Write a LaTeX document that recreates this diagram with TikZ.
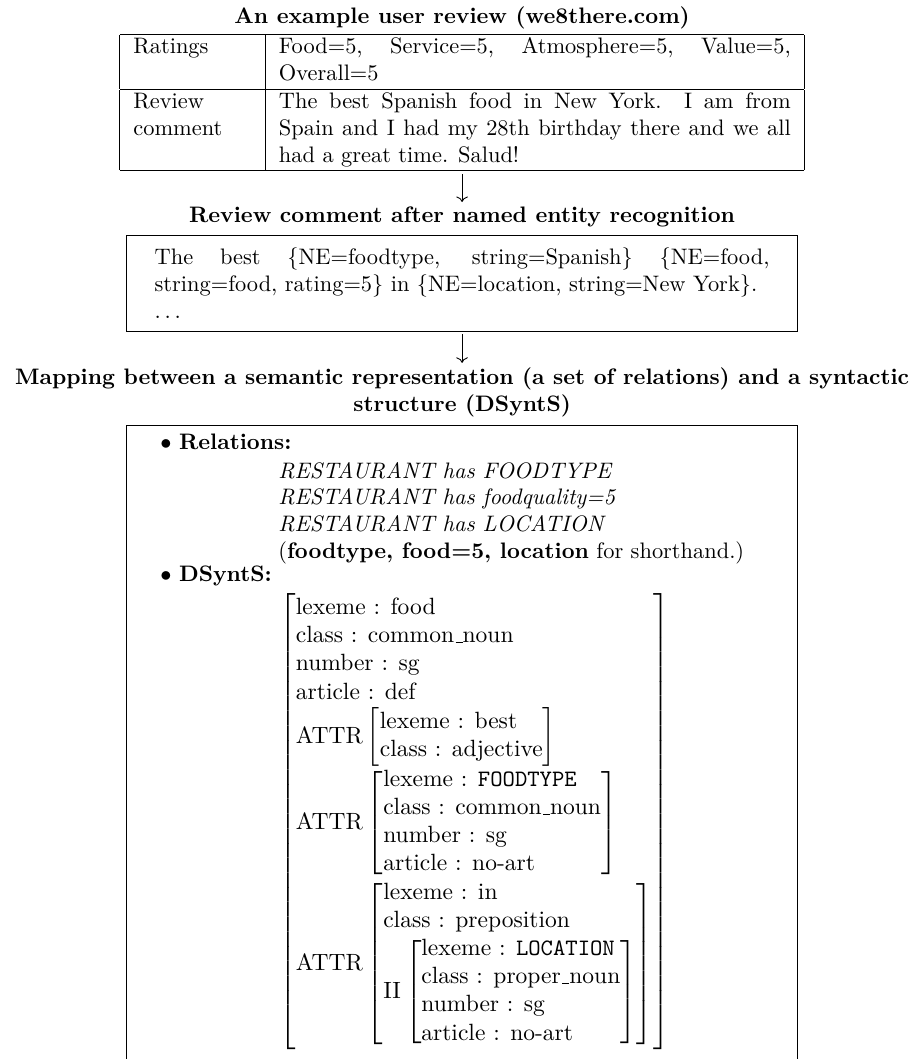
\documentclass[tikz,border=0pt]{standalone}
\usepackage{amsmath}
\usetikzlibrary{arrows.meta, positioning}

% underscore drawn on the baseline
\newcommand{\usc}{\leavevmode\kern.06em\vbox{\hrule width.3em}}
% feature structure in square brackets
\newcommand{\fstruct}[1]{\left[\begin{array}{@{}l@{}}#1\end{array}\right]}

\begin{document}
\begin{tikzpicture}[
    x=1pt, y=1pt,
    node distance=2pt,
    heading/.style={font=\bfseries, inner sep=0pt, align=center},
    block/.style={rectangle, draw, line width=0.5pt, inner xsep=12.5pt, inner ysep=5.6pt},
    arrow/.style={-To, thin, shorten <=1.2pt, shorten >=1.8pt}
]
    \useasboundingbox (0,0) rectangle (410.3,-472.8);

    \node[heading, anchor=base] (title1) at (206.3,-10.3) {An example user review (we8there.com)};
    \node[inner sep=0pt, below=2pt of title1] (review) {%
        \begin{tabular}{|p{53pt}|p{228.5pt}|}
        \hline
        Ratings & Food=5, Service=5, Atmosphere=5, Value=5,\linebreak Overall=5\\
        \hline
        Review comment & The best Spanish food in New York. I am from\linebreak Spain and I had my 28th birthday there and we all\linebreak had a great time. Salud!\\
        \hline
        \end{tabular}};

    \node[heading, below=15.4pt of review] (title2) {Review comment after named entity recognition};
    \node[block, text width=274.5pt, align=justify, below=3.5pt of title2] (ner) {%
        The best \{NE=foodtype, string=Spanish\} \{NE=food,\linebreak string=food, rating=5\} in \{NE=location, string=New York\}.\\ $\ldots$};

    \node[heading, below=15.7pt of ner] (title3) {Mapping between a semantic representation (a set of relations) and a syntactic\\ structure (DSyntS)};
    \node[rectangle, draw, line width=0.5pt, minimum width=299.5pt, minimum height=320pt, below=3.4pt of title3] (mapping) {};

    \draw[arrow] (review) -- (title2);
    \draw[arrow] (ner) -- (title3);

    % contents of the mapping box
    \node[inner sep=0pt, anchor=base west] (relations) at (71.4,-200.9) {$\bullet$ \textbf{Relations:}};
    \node[inner sep=0pt, anchor=north west, align=left] (rellist) at (124.1,-206.1) {%
        \textit{RESTAURANT has FOODTYPE}\\
        \textit{RESTAURANT has foodquality=5}\\
        \textit{RESTAURANT has LOCATION}\\
        (\textbf{foodtype, food=5, location} for shorthand.)};
    \node[inner sep=0pt, anchor=base west] (dsynts) at (71.4,-259.8) {$\bullet$ \textbf{DSyntS:}};
    \node[inner sep=0pt, anchor=north west, font=\fontsize{10.5pt}{12.6pt}\selectfont] (avm) at (124.6,-264.8) {$\displaystyle
        \fstruct{
            \text{lexeme : food}\\
            \text{class : common\usc noun}\\
            \text{number : sg}\\
            \text{article : def}\\
            \text{ATTR}\fstruct{\text{lexeme : best}\\ \text{class : adjective}}\\
            \text{ATTR}\fstruct{\text{lexeme : \texttt{FOODTYPE}}\\ \text{class : common\usc noun}\\ \text{number : sg}\\ \text{article : no-art}}\\
            \text{ATTR}\fstruct{\text{lexeme : in}\\ \text{class : preposition}\\
                \text{II}\fstruct{\text{lexeme : \texttt{LOCATION}}\\ \text{class : proper\usc noun}\\ \text{number : sg}\\ \text{article : no-art}}}
        }$};
\end{tikzpicture}
\end{document}
